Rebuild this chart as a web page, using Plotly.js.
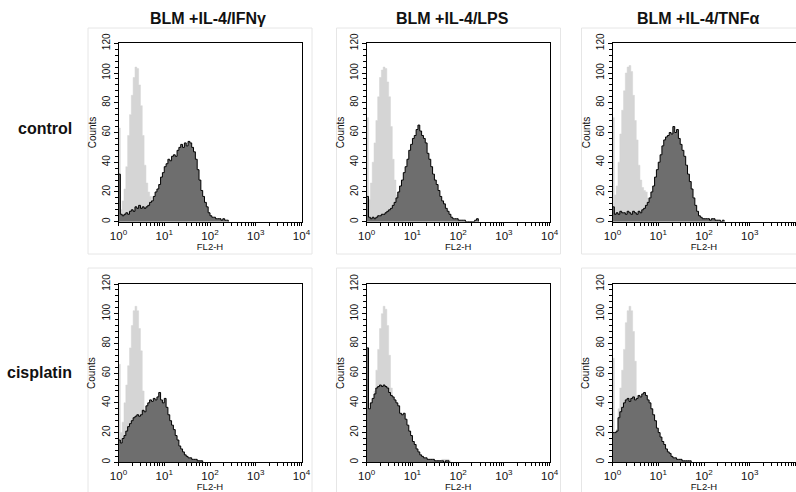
<!DOCTYPE html>
<html>
<head>
<meta charset="utf-8">
<script src="https://cdn.plot.ly/plotly-3.0.1.min.js"></script>
<style>
  html, body { margin: 0; padding: 0; background: #fff; }
  #chart { width: 796px; height: 492px; }
</style>
</head>
<body>
<div id="chart"></div>
<script>
// ---------- DATA ----------
// channel positions (log10 of FL2-H)
const channelLog = [0,0.04,0.08,0.12,0.16,0.2,0.24,0.28,0.32,0.36,0.4,0.44,0.48,0.52,0.56,0.6,0.64,0.68,0.72,0.76,
  0.8,0.84,0.88,0.92,0.96,1,1.04,1.08,1.12,1.16,1.2,1.24,1.28,1.32,1.36,1.4,1.44,1.48,1.52,1.56,
  1.6,1.64,1.68,1.72,1.76,1.8,1.84,1.88,1.92,1.96,2,2.04,2.08,2.12,2.16,2.2,2.24,2.28,2.32,2.36,
  2.4,2.44,2.48,2.52,2.56,2.6];

const columnTitles = ['BLM +IL-4/IFNγ', 'BLM +IL-4/LPS', 'BLM +IL-4/TNFα'];
const rowLabels = ['control', 'cisplatin'];
const decadeVals = [1, 10, 100, 1000, 10000];
const decadeText = ['10<sup>0</sup>', '10<sup>1</sup>', '10<sup>2</sup>', '10<sup>3</sup>', '10<sup>4</sup>'];

// isotype (light gray) histograms
const isoControlIFN = [63,8,14,22,37,58,72,85,97,104,103,92,78,58,38,26,20,17,13,10,7,5,3,2,0];
const isoControlLPS = [70,15,26,40,53,68,84,97,102,104,103,94,84,64,42,28,18,10,5,2,0];
const isoControlTNF = [70,18,24,40,59,75,88,100,104,105,101,85,68,55,38,28,23,21,20,16,10,6,3,1,0];
const isoCisIFN = [66,20,27,40,52,65,77,92,102,105,102,90,75,48,32,22,14,8,4,2,0];
const isoCisLPS = [70,20,30,38,48,62,76,90,100,105,103,92,72,50,35,22,14,8,4,2,1,1,1,1,1,1,1,1,1,1,1,1,1,1,1,1,1,1,1,1,1,2,2,2,2,1,0];
const isoCisTNF = [70,15,22,36,50,62,76,94,102,105,102,88,68,45,30,20,12,7,4,2,0];

// stained (dark gray) histograms
const stainControlIFN = [32,5,4,5,6,5,7,8,7,10,9,11,9,10,9,10,11,13,14,17,20,22,25,30,33,37,39,42,41,44,
  45,44,48,50,52,50,53,51,54,53,50,47,42,35,28,21,17,13,10,6,4,3,3,2,2,2,1,2,1,1,0];
const stainControlLPS = [17,3,2,3,2,3,4,4,5,5,6,7,8,9,11,13,16,20,24,28,33,37,42,48,52,56,58,62,65,61,
  58,56,53,46,42,37,32,28,25,21,17,14,12,9,7,5,3,2,2,2,1,1,1,1,0,0,0,0,0,1,2,0];
const stainControlTNF = [10,5,6,5,7,6,6,5,7,6,5,7,6,5,7,6,8,9,11,13,16,20,24,30,35,40,45,51,55,57,
  58,60,59,64,60,62,56,52,48,44,38,32,27,22,16,11,7,4,3,2,2,2,2,1,2,2,1,1,1,0,1,0];
const stainCisIFN = [15,13,16,18,21,24,26,28,30,31,32,31,32,35,34,38,40,42,41,43,42,44,47,42,40,43,37,32,28,25,
  22,18,15,11,9,7,5,4,3,3,2,2,2,1,1,1,0];
const stainCisLPS = [77,36,40,43,46,50,51,52,51,52,51,50,47,45,44,42,40,38,33,32,33,29,25,21,18,14,12,9,7,5,
  4,3,3,2,2,2,2,1,1,1,1,1,0,1,1,0];
const stainCisTNF = [20,20,21,30,34,37,40,42,43,41,43,44,42,43,45,44,46,47,45,42,40,36,32,28,23,20,17,14,12,9,
  7,6,4,3,3,2,2,2,1,1,1,1,1,0];

const panels = [
  {iso: isoControlIFN, stain: stainControlIFN},
  {iso: isoControlLPS, stain: stainControlLPS},
  {iso: isoControlTNF, stain: stainControlTNF},
  {iso: isoCisIFN, stain: stainCisIFN},
  {iso: isoCisLPS, stain: stainCisLPS},
  {iso: isoCisTNF, stain: stainCisTNF}
];

// ---------- LAYOUT ----------
const W = 796, H = 492;
const px = v => v / W;
const py = v => 1 - v / H;
const colPx = [[118.5, 301.5], [366.7, 549.7], [612.5, 795.5]];
const rowPx = [[43.3, 221.7], [284, 462.3]];
const FONT = '"Liberation Sans", Arial, Helvetica, sans-serif';

const fl2 = channelLog.map(c => Math.pow(10, c));

// tick positions: decades labelled, 2..9 unlabelled
const xTickVals = [], xTickText = [];
decadeVals.forEach((d, i) => {
  xTickVals.push(d); xTickText.push(decadeText[i]);
  if (d < 10000) for (let k = 2; k <= 9; k++) { xTickVals.push(k * d); xTickText.push(''); }
});

const traces = [];
const layout = {
  width: W, height: H,
  margin: {l: 0, r: 0, t: 0, b: 0},
  paper_bgcolor: '#fff', plot_bgcolor: '#fff',
  showlegend: false,
  font: {family: FONT, color: '#111'},
  shapes: [], annotations: []
};

panels.forEach((p, i) => {
  const n = i + 1;
  const col = i % 3, row = Math.floor(i / 3);
  const xa = n === 1 ? 'x' : 'x' + n;
  const ya = n === 1 ? 'y' : 'y' + n;
  traces.push({
    type: 'scatter', mode: 'lines', x: fl2, y: p.iso, xaxis: xa, yaxis: ya,
    fill: 'tozeroy', fillcolor: '#d5d5d5', line: {color: '#d5d5d5', width: 0.5, shape: 'hv'},
    hoverinfo: 'skip'
  });
  traces.push({
    type: 'scatter', mode: 'lines', x: fl2, y: p.stain, xaxis: xa, yaxis: ya,
    fill: 'tozeroy', fillcolor: '#6e6e6e', line: {color: '#000', width: 1, shape: 'hv'},
    hoverinfo: 'skip'
  });
  const xKey = n === 1 ? 'xaxis' : 'xaxis' + n;
  const yKey = n === 1 ? 'yaxis' : 'yaxis' + n;
  layout[xKey] = {
    type: 'log', range: [0, 4], domain: [px(colPx[col][0]), px(colPx[col][1])],
    anchor: ya, showline: true, mirror: true, linecolor: '#000', linewidth: 1,
    showgrid: false, zeroline: false,
    ticks: 'outside', ticklen: 3, tickwidth: 1, tickcolor: '#000',
    tickmode: 'array', tickvals: xTickVals, ticktext: xTickText,
    tickfont: {family: FONT, size: 11.5, color: '#111'},
    title: {text: 'FL2-H', font: {family: FONT, size: 9.5, color: '#111'}, standoff: 1},
    fixedrange: true
  };
  layout[yKey] = {
    range: [0, 120], domain: [py(rowPx[row][1]), py(rowPx[row][0])],
    anchor: xa, showline: true, mirror: true, linecolor: '#000', linewidth: 1,
    showgrid: false, zeroline: false,
    ticks: 'outside', ticklen: 4, tickwidth: 1, tickcolor: '#000',
    tick0: 0, dtick: 20, tickangle: -90,
    minor: {dtick: 4, ticks: 'outside', ticklen: 3, tickwidth: 1, tickcolor: '#000', showgrid: false},
    tickfont: {family: FONT, size: 10, color: '#111'},
    title: {text: 'Counts', font: {family: FONT, size: 10, color: '#111'}, standoff: 2},
    fixedrange: true
  };
});

// faint panel frames
const frameX = [[88, 312], [336.5, 560.5], [581.5, 805]];
const frameY = [[28, 254], [268, 494]];
frameY.forEach(fy => frameX.forEach(fx => {
  layout.shapes.push({type: 'rect', xref: 'paper', yref: 'paper', layer: 'below',
    x0: px(fx[0]), x1: px(fx[1]), y0: py(fy[1]), y1: py(fy[0]),
    line: {color: '#e6e6e6', width: 1}, fillcolor: 'rgba(0,0,0,0)'});
}));

// column titles
const titleCx = [208.3, 452.8, 698.3];
columnTitles.forEach((t, i) => {
  layout.annotations.push({text: '<b>' + t + '</b>', xref: 'paper', yref: 'paper',
    x: px(titleCx[i]), y: py(19), xanchor: 'center', yanchor: 'middle', showarrow: false,
    font: {family: FONT, size: 16, color: '#111'}});
});
// row labels
const rowCy = [128, 372];
rowLabels.forEach((t, i) => {
  layout.annotations.push({text: '<b>' + t + '</b>', xref: 'paper', yref: 'paper',
    x: px(74), y: py(rowCy[i]), xanchor: 'right', yanchor: 'middle', showarrow: false,
    font: {family: FONT, size: 16, color: '#111'}});
});

Plotly.newPlot('chart', traces, layout, {displayModeBar: false, staticPlot: true});
</script>
</body>
</html>
